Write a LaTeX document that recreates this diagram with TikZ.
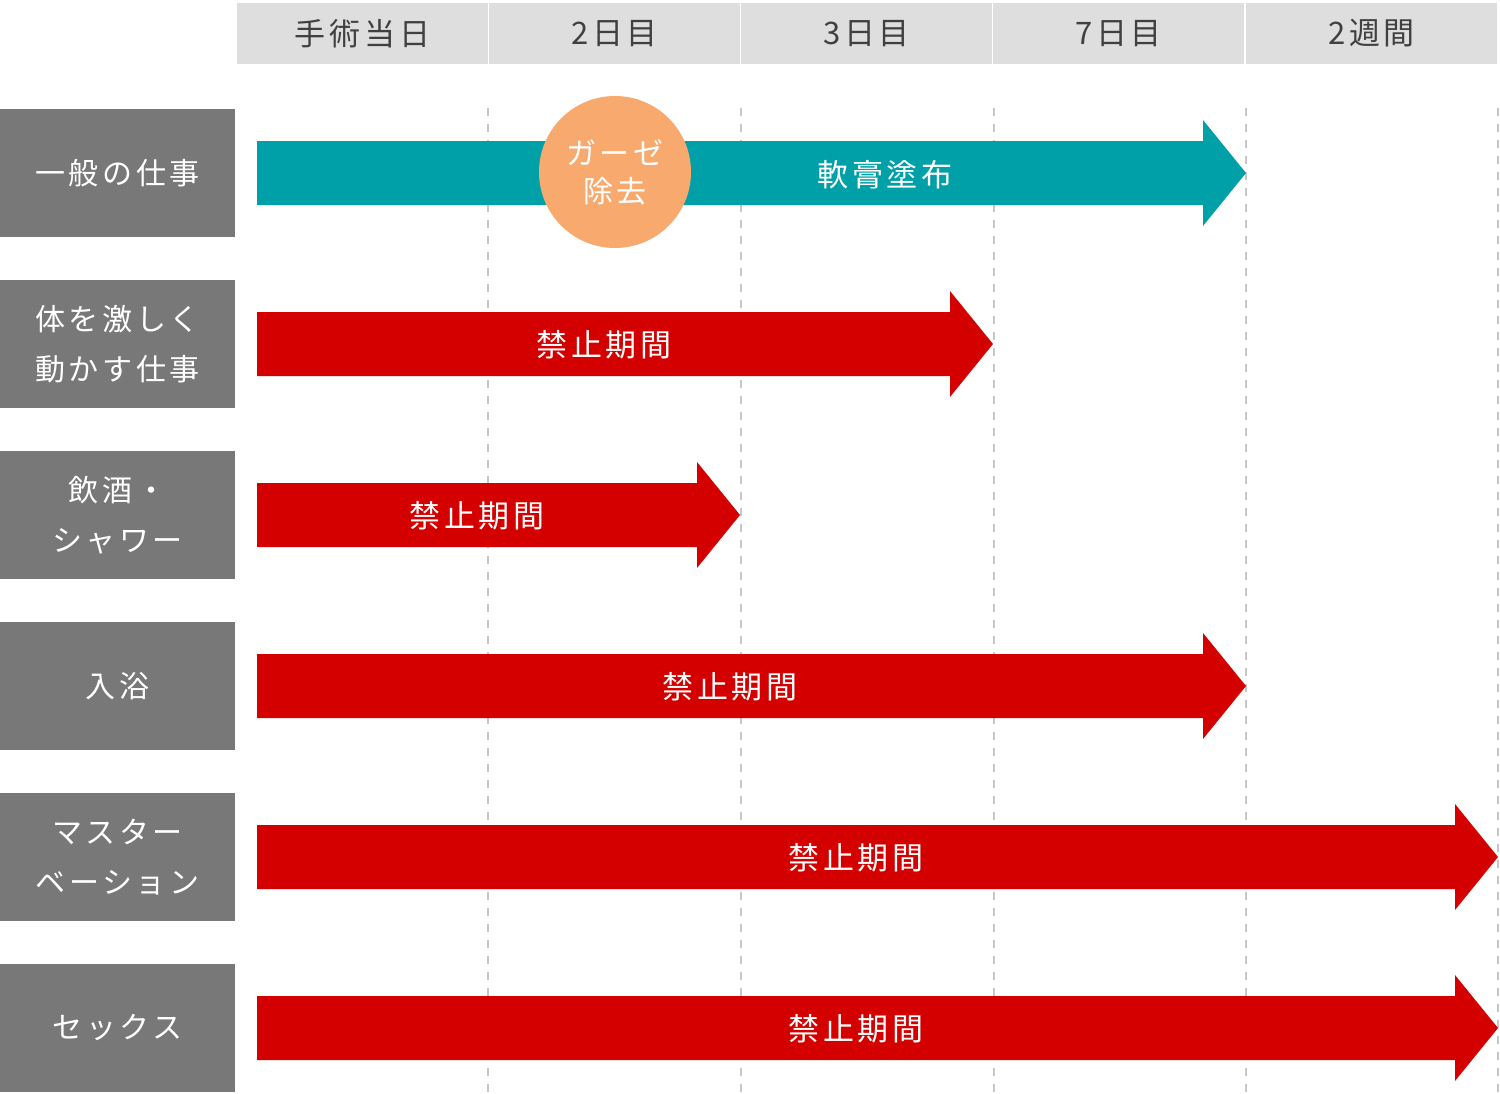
\documentclass[tikz,border=0pt]{standalone}
\usepackage{fontspec}
\setmainfont{Noto Sans CJK JP}[LetterSpace=12]
\begin{document}
\begin{tikzpicture}[x=1pt,y=-1pt,
 hdr/.style={fill=black!13,draw=none,text=black!75,font=\fontsize{31}{34}\selectfont,inner sep=0},
 lab/.style={fill=black!53,draw=none,text=white,font=\fontsize{30}{50}\selectfont,align=center,inner sep=0},
 bar/.style={font=\fontsize{31}{34}\selectfont,text=white},
 grid/.style={black!22,dashed,dash pattern=on 8pt off 8pt,line width=1.5pt}]
\useasboundingbox (0,0) rectangle (1500,1093);
\definecolor{teal}{HTML}{00A0A8}\definecolor{myred}{HTML}{D40000}\definecolor{ora}{HTML}{F7A96E}
% dashed grid
\foreach \x/\n in {488/a,741/b,994/c,1246/d,1498/e}{\coordinate (t\n) at (\x,108);\coordinate (b\n) at (\x,1093);\draw[grid] (t\n)--(b\n);}
% header
\foreach \x/\t/\n in {237/手術当日/h1,489/2日目/h2,741/3日目/h3,993/7日目/h4,1246/2週間/h5}
 \path[hdr] (\x,3) rectangle ++(251,61) node[midway] (\n) {\t};
% labels
\foreach \y/\t/\n in {109/一般の仕事/l1,280/{体を激しく\\動かす仕事}/l2,451/{飲酒・\\シャワー}/l3,622/入浴/l4,793/{マスター\\ベーション}/l5,964/セックス/l6}
 \path[lab] (0,\y) rectangle ++(235,128) node[midway] (\n) {\t};
% arrows
\foreach \y/\tip/\c/\n in {173/1246/teal/r1,344/993/myred/r2,515/740/myred/r3,686/1246/myred/r4,857/1498/myred/r5,1028/1498/myred/r6}
 \fill[\c] (257,\y-32) -- (\tip-43,\y-32) -- (\tip-43,\y-53) -- (\tip,\y) -- (\tip-43,\y+53) -- (\tip-43,\y+32) -- (257,\y+32) -- cycle;
\node[bar] (t1) at (885,175) {軟膏塗布};
\node[bar] (t2) at (604,345) {禁止期間};
\node[bar] (t3) at (477,516) {禁止期間};
\node[bar] (t4) at (730,687) {禁止期間};
\node[bar] (t5) at (856,858) {禁止期間};
\node[bar] (t6) at (856,1029) {禁止期間};
\node[circle,fill=ora,minimum size=152pt,inner sep=0,text=white,align=center,font=\fontsize{30}{38}\selectfont] (g) at (615,172) {ガーゼ\\除去};
\end{tikzpicture}
\end{document}
